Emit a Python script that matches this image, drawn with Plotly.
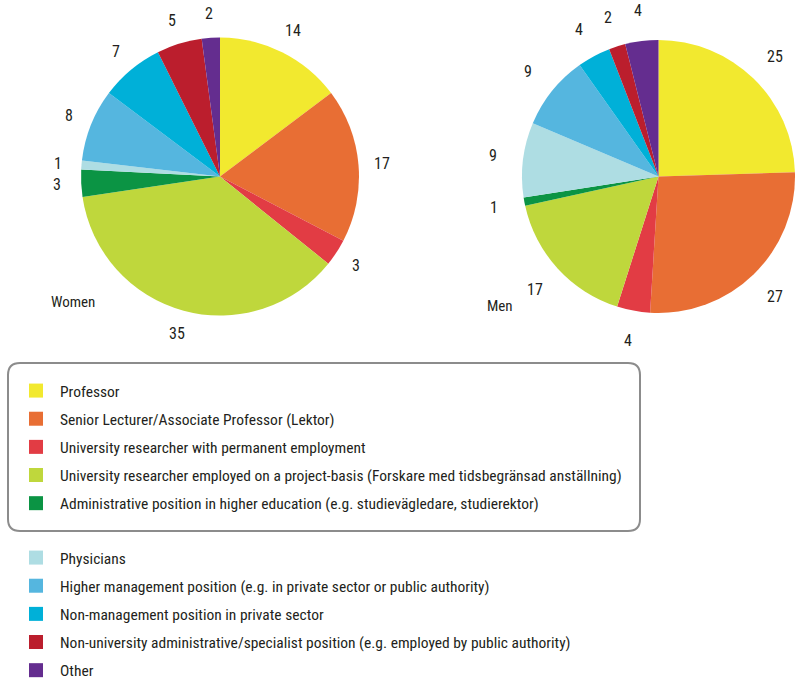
import math
import plotly.graph_objects as go

categories = [
    "Professor",
    "Senior Lecturer/Associate Professor (Lektor)",
    "University researcher with permanent employment",
    "University researcher employed on a project-basis (Forskare med tidsbegränsad anställning)",
    "Administrative position in higher education (e.g. studievägledare, studierektor)",
    "Physicians",
    "Higher management position (e.g. in private sector or public authority)",
    "Non-management position in private sector",
    "Non-university administrative/specialist position (e.g. employed by public authority)",
    "Other",
]
women_values = [14, 17, 3, 35, 3, 1, 8, 7, 5, 2]
men_values = [25, 27, 4, 17, 1, 9, 9, 4, 2, 4]
colors = ["#F2E92F", "#E86E34", "#E23C44", "#BFD73C", "#0B9444",
          "#AEDDE3", "#55B6DF", "#00B0D8", "#BB1E2D", "#642D8F"]

W, H = 795, 679
FONT = "Roboto Condensed, Liberation Sans Narrow, Arial Narrow, sans-serif"
TXT = "#231F20"


def px(x):
    return x / W


def py(y):
    return 1 - y / H


fig = go.Figure()

pie_common = dict(
    sort=False, direction="clockwise", rotation=0,
    textinfo="none",
    marker=dict(colors=colors, line=dict(width=0)),
    showlegend=False, hoverinfo="label+value",
)

# pie geometry (pixels)
pies = [
    dict(name="Women", values=women_values, x0=81, x1=359, y0=37, y1=316, lab_r=163),
    dict(name="Men", values=men_values, x0=522, x1=W, y0=37, y1=316, lab_r=167),
]

for p in pies:
    fig.add_trace(go.Pie(labels=categories, values=p["values"], name=p["name"],
                         domain=dict(x=[px(p["x0"]), px(p["x1"])],
                                     y=[py(p["y1"]), py(p["y0"])]),
                         **pie_common))
    # value labels placed outside each slice at its mid-angle
    cx = (p["x0"] + p["x1"]) / 2
    cy = (p["y0"] + p["y1"]) / 2
    total = sum(p["values"])
    cum = 0
    for v in p["values"]:
        mid = (cum + v / 2) / total * 2 * math.pi
        cum += v
        lx = cx + p["lab_r"] * math.sin(mid)
        ly = cy - p["lab_r"] * math.cos(mid)
        fig.add_annotation(x=px(lx), y=py(ly), xref="paper", yref="paper",
                           xanchor="center", yanchor="middle",
                           text=str(v), showarrow=False,
                           font=dict(family=FONT, size=16, color=TXT))

for i, (cat, col) in enumerate(zip(categories, colors)):
    fig.add_trace(go.Scatter(
        x=[None], y=[None], mode="markers", name=cat,
        marker=dict(symbol="square", size=14, color=col),
        legend="legend" if i < 5 else "legend2",
        legendgroup=f"g{i}", showlegend=True, hoverinfo="skip",
    ))

legend_common = dict(
    font=dict(family=FONT, size=15.5, color=TXT),
    bgcolor="rgba(0,0,0,0)", borderwidth=0,
    traceorder="grouped", tracegroupgap=5, itemwidth=38,
    itemsizing="trace", xanchor="left", yanchor="top",
)
fig.update_layout(
    legend=dict(x=px(12), y=py(374), **legend_common),
    legend2=dict(x=px(12), y=py(541), **legend_common),
)

# rounded frame around first legend group
x0, x1, y0, y1 = px(8), px(640), py(531), py(363)
rx, ry = 12 / W, 12 / H
path = (f"M {x0+rx},{y1} L {x1-rx},{y1} Q {x1},{y1} {x1},{y1-ry} "
        f"L {x1},{y0+ry} Q {x1},{y0} {x1-rx},{y0} L {x0+rx},{y0} "
        f"Q {x0},{y0} {x0},{y0+ry} L {x0},{y1-ry} Q {x0},{y1} {x0+rx},{y1} Z")
fig.add_shape(type="path", path=path, xref="paper", yref="paper",
              line=dict(color="#8C8C8C", width=2))

fig.add_annotation(x=px(73), y=py(302), xref="paper", yref="paper",
                   xanchor="center", yanchor="middle",
                   text="Women", showarrow=False,
                   font=dict(family=FONT, size=15, color=TXT))
fig.add_annotation(x=px(500), y=py(306), xref="paper", yref="paper",
                   xanchor="center", yanchor="middle",
                   text="Men", showarrow=False,
                   font=dict(family=FONT, size=15, color=TXT))

fig.update_layout(
    width=W, height=H,
    margin=dict(l=0, r=0, t=0, b=0, autoexpand=False),
    paper_bgcolor="white", plot_bgcolor="white",
    xaxis=dict(visible=False), yaxis=dict(visible=False),
)

fig.write_html("out.html")
